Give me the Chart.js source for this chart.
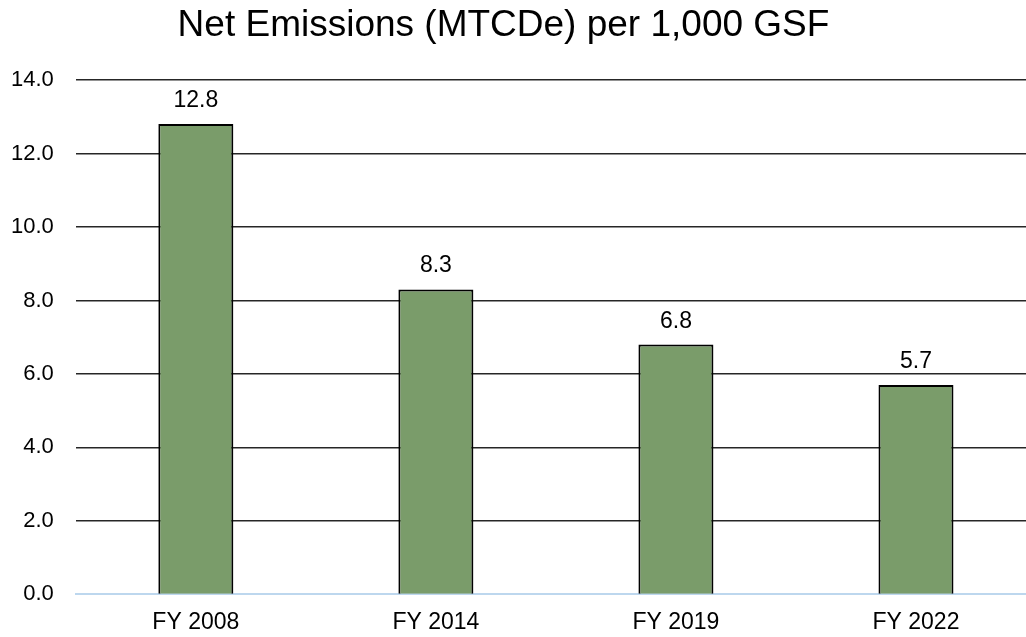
<!DOCTYPE html>
<html>
<head>
<meta charset="utf-8">
<script src="https://cdn.jsdelivr.net/npm/chart.js@4/dist/chart.umd.min.js"></script>
<style>
  html, body { margin: 0; padding: 0; background: #fff; overflow: hidden; }
  #wrap { position: relative; width: 1026px; height: 637px; overflow: hidden; }
  #chart { position: absolute; left: -11px; top: 0; }
  #title {
    position: absolute; left: 0; width: 1007px; top: 3px; z-index: 1;
    text-align: center; font: 37px "Liberation Sans", Arial, sans-serif; color: #000;
  }
</style>
</head>
<body>
<div id="wrap">
  <div id="title">Net Emissions (MTCDe) per 1,000 GSF</div>
  <canvas id="chart" width="1051" height="650"></canvas>
</div>
<script>
const categories = ['FY 2008', 'FY 2014', 'FY 2019', 'FY 2022'];
const emissions = [12.8, 8.3, 6.8, 5.7];
const yTicks = [0, 2, 4, 6, 8, 10, 12, 14];

// etiquetas de valor encima de cada barra
const barLabels = {
    id: 'barLabels',
    afterDatasetsDraw(chart) {
        const ctx = chart.ctx;
        const meta = chart.getDatasetMeta(0);
        ctx.save();
        ctx.font = '23px "Liberation Sans", Arial, sans-serif';
        ctx.fillStyle = '#000';
        ctx.textAlign = 'center';
        ctx.textBaseline = 'alphabetic';
        meta.data.forEach((bar, i) => {
            ctx.fillText(emissions[i].toFixed(1), bar.x, bar.y - 17);
        });
        ctx.restore();
    }
};

new Chart(document.getElementById('chart').getContext('2d'), {
    type: 'bar',
    data: {
        labels: categories,
        datasets: [{
            data: emissions,
            backgroundColor: '#7a9c6a',
            borderColor: '#000',
            borderWidth: { top: 2, left: 2, right: 2, bottom: 0 },
            borderSkipped: 'bottom',
            barPercentage: 0.3125,
            categoryPercentage: 1
        }]
    },
    options: {
        responsive: false,
        animation: false,
        layout: { padding: { top: 80, left: 0, right: 4, bottom: 0 } },
        plugins: {
            legend: { display: false },
            title: { display: false },
            tooltip: { enabled: false }
        },
        scales: {
            x: {
                grid: { display: false, drawTicks: false },
                border: { display: true, color: '#bdd7ee', width: 2 },
                ticks: {
                    color: '#000',
                    padding: 14,
                    font: { family: '"Liberation Sans", Arial, sans-serif', size: 23 }
                }
            },
            y: {
                min: 0,
                max: 14,
                afterBuildTicks: axis => { axis.ticks = yTicks.map(v => ({ value: v })); },
                grid: {
                    color: ctx => ctx.tick && ctx.tick.value === 0 ? 'rgba(0,0,0,0)' : '#262626',
                    lineWidth: 1.5,
                    drawTicks: false
                },
                border: { display: false },
                ticks: {
                    color: '#000',
                    padding: 22,
                    font: { family: '"Liberation Sans", Arial, sans-serif', size: 22 },
                    callback: v => v.toFixed(1)
                }
            }
        }
    },
    plugins: [barLabels]
});
</script>
</body>
</html>
